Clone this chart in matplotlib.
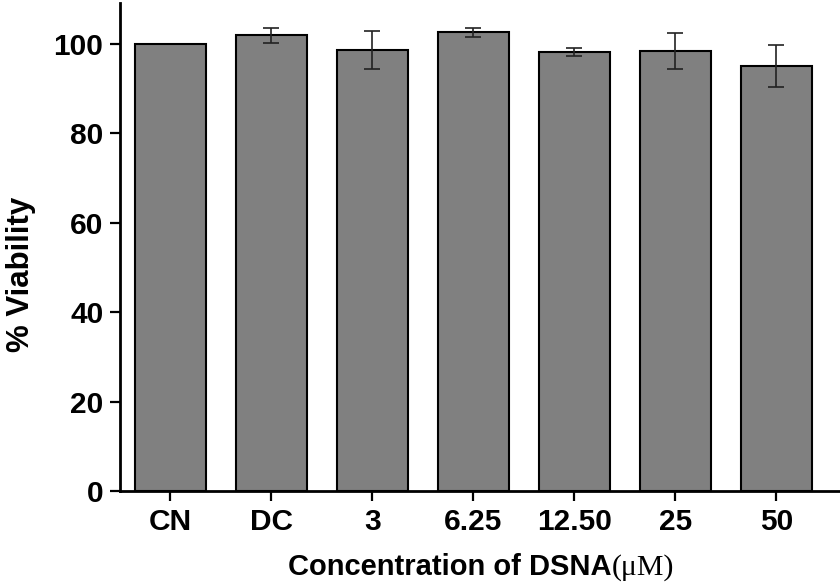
import numpy as np
import matplotlib
matplotlib.use("Agg")
import matplotlib.pyplot as plt

# data
groups = ["CN", "DC", "3", "6.25", "12.50", "25", "50"]
viability = [100.0, 102.0, 98.7, 102.6, 98.2, 98.4, 95.1]
err = [0.0, 1.7, 4.3, 1.0, 0.9, 4.0, 4.6]
yticks = [0, 20, 40, 60, 80, 100]

plt.rcParams["font.family"] = ["Liberation Sans", "DejaVu Sans"]

fig = plt.figure(figsize=(8.4, 5.82), dpi=100)
ax = fig.add_axes([120/840, 91/582, 720/840, 488/582])

x = np.arange(len(groups))
ax.bar(x, viability, width=0.71, color="#808080", edgecolor="black",
       linewidth=1.5, zorder=2)
ax.errorbar(x[1:], viability[1:], yerr=err[1:], fmt="none", ecolor="#222222",
            elinewidth=1.2, capsize=5.5, capthick=1.2, zorder=3)

ax.set_xlim(-0.5, 6.63)
ax.set_ylim(0, 109.2)
ax.set_xticks(x)
ax.set_xticklabels(groups)
ax.set_yticks(yticks)

for s in ["top", "right"]:
    ax.spines[s].set_visible(False)
for s in ["left", "bottom"]:
    ax.spines[s].set_linewidth(2)

ax.tick_params(axis="both", direction="out", length=7, width=1.6,
               labelsize=21.5, pad=5)
for lbl in ax.get_xticklabels() + ax.get_yticklabels():
    lbl.set_fontweight("bold")

# y label
fig.text(21/840, 1 - 274/582, "% Viability", rotation=90, ha="center",
         va="center", fontsize=22.5, fontweight="bold")

# x label: sans bold part + serif (μM)
ybase = 1 - 575/582
fig.text(612/840, ybase, "Concentration of DSNA", ha="right", va="baseline",
         fontsize=21, fontweight="bold")
fig.text(612/840, ybase, "(μM)", ha="left", va="baseline", fontsize=21.5,
         family=["Liberation Serif", "DejaVu Serif"])

fig.savefig("out.png", dpi=100)
